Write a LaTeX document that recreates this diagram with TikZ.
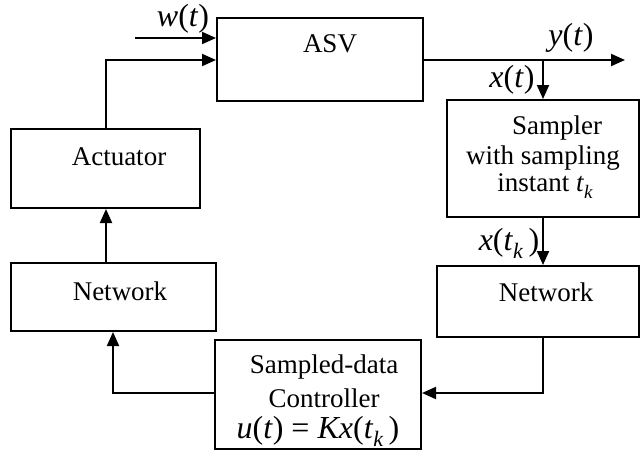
\documentclass[tikz,border=0pt]{standalone}
\usepackage{fontspec}
\setmainfont{Liberation Serif}
\usetikzlibrary{arrows.meta}
\newcommand{\iv}[1]{\textit{#1}}
\newcommand{\sbk}[1]{\raisebox{-0.55ex}{\fontsize{11}{12}\selectfont\textit{#1}}}
\begin{document}
\begin{tikzpicture}[x=0.5pt,y=-0.5pt,
  font=\fontsize{13.5}{15}\selectfont,
  box/.style={draw,line width=1pt,inner sep=0pt},
  lbl/.style={inner sep=0pt,anchor=center},
  mlbl/.style={inner sep=0pt,anchor=center,font=\fontsize{16}{18}\selectfont},
  conn/.style={line width=1pt,-{Triangle[length=7pt,width=6pt]}},
  wire/.style={line width=1pt}]
\useasboundingbox (0,0) rectangle (640,450);
% blocks
\node[box,minimum width=103pt,minimum height=41.5pt] (asv) at (320,59.5) {};
\node[box,minimum width=94.5pt,minimum height=39.5pt] (act) at (105.5,168.5) {};
\node[box,minimum width=102.5pt,minimum height=34pt] (netL) at (113.5,297) {};
\node[box,minimum width=103pt,minimum height=54.5pt] (ctrl) at (318,394.5) {};
\node[box,minimum width=96pt,minimum height=58.5pt] (samp) at (543,158.5) {};
\node[box,minimum width=101pt,minimum height=35.5pt] (netR) at (538,301.5) {};
% block texts
\node[lbl] (tasv) at (330,44) {ASV};
\node[lbl] (tact) at (119,157) {Actuator};
\node[lbl] (tnetL) at (120,291) {Network};
\node[lbl] (tnetR) at (546,292) {Network};
\node[lbl] (ts1) at (557,128) {Sampler};
\node[lbl] (ts2) at (543,158) {with sampling};
\node[lbl] (ts3) at (545,186) {instant \iv{t}\raisebox{-0.5ex}{\fontsize{9.5}{10}\selectfont\textit{k}}};
\node[lbl] (tc1) at (324,367) {Sampled-data};
\node[lbl] (tc2) at (324,398) {Controller};
\node[mlbl] (tc3) at (318,431) {\iv{u}(\iv{t}) = \iv{Kx}(\iv{t}\sbk{k}\,)};
% signal labels
\node[mlbl] (lw) at (183,19) {\iv{w}(\iv{t})};
\node[mlbl] (ly) at (571,38) {\iv{y}(\iv{t})};
\node[mlbl] (lx) at (512,80) {\iv{x}(\iv{t})};
\node[mlbl] (lxk) at (509,243) {\iv{x}(\iv{t}\sbk{k}\,)};
% connectors
\coordinate (win) at (135,38);
\coordinate (yout) at (625,60);
\coordinate (tap) at (543,60);
\coordinate (up) at (106,60);
\draw[conn] (win) -- (win -| asv.west);
\draw[conn] (act.north -| up) -- (up) -- (up -| asv.west);
\draw[conn] (asv.east |- yout) -- (yout);
\draw[conn] (tap) -- (samp.north -| tap);
\draw[conn] (samp.south -| tap) -- (netR.north -| tap);
\draw[conn] (netR.south -| tap) |- (ctrl.east |- 0,393);
\draw[conn] (ctrl.west |- 0,393) -| (netL.south -| 113,0);
\draw[conn] (netL.north -| up) -- (act.south -| up);
\end{tikzpicture}
\end{document}
